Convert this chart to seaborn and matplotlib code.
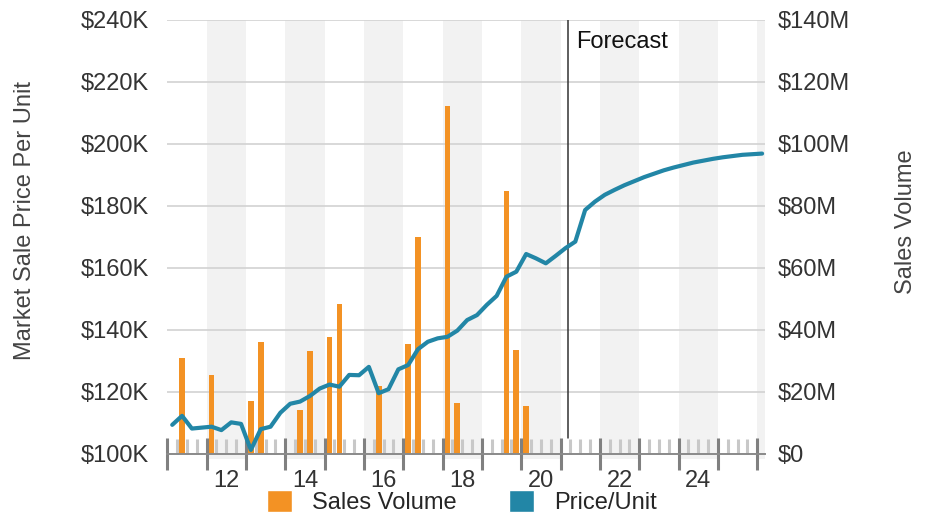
import matplotlib
matplotlib.use("Agg")
import matplotlib.pyplot as plt
import matplotlib.ticker as mticker
import matplotlib.transforms as mtransforms
from matplotlib.patches import Patch
import pandas as pd
import seaborn as sns

# Quarterly periods, 2011Q1 .. 2026Q1
quarters = [f"20{y}Q{q}" for y in range(11, 27) for q in range(1, 5)][:61]

# Market sale price per unit, $K (actuals then forecast)
price = [109.4, 112.3, 108.2, 108.5, 108.8, 107.7, 110.2, 109.7,
         101.3, 108.0, 108.8, 113.3, 116.2, 116.9, 118.7, 121.1,
         122.4, 121.7, 125.5, 125.4, 128.1, 119.6, 120.9, 127.3,
         128.7, 133.8, 136.2, 137.3, 137.8, 139.8, 143.2, 144.8,
         148.1, 151.0, 157.2, 158.8, 164.5, 163.1, 161.5, 163.9,
         166.4, 168.5, 178.7, 181.4, 183.6, 185.2, 186.7, 188.0,
         189.3, 190.4, 191.5, 192.4, 193.2, 194.0, 194.6, 195.2,
         195.7, 196.1, 196.5, 196.7, 196.9]

# Sales volume, $M (only quarters with sales)
sale_quarters = ["2011Q2", "2012Q1", "2013Q1", "2013Q2", "2014Q2", "2014Q3",
                 "2015Q1", "2015Q2", "2016Q2", "2017Q1", "2017Q2", "2018Q1",
                 "2018Q2", "2019Q3", "2019Q4", "2020Q1"]
sale_volume = [31.1, 25.5, 17.1, 36.1, 14.2, 33.2, 37.7, 48.4, 21.9,
               35.5, 70.0, 112.3, 16.5, 84.8, 33.5, 15.5]

year_labels = ["12", "14", "16", "18", "20", "22", "24"]
forecast_start = 21.19

orange = "#F39224"
blue = "#2286A6"


def qpos(label):
    # quarter label -> position on a two-digit year axis (quarter midpoint)
    return int(label[2:4]) + (int(label[-1]) - 0.5) / 4


price_df = pd.DataFrame({"x": [qpos(q) for q in quarters], "price": price})
sales_df = pd.DataFrame({"x": [qpos(q) for q in sale_quarters], "volume": sale_volume})

sns.set_style("white")
plt.rcParams["font.family"] = ["Liberation Sans", "DejaVu Sans"]

fig = plt.figure(figsize=(9.28, 5.16), dpi=100)
ax = fig.add_axes([0.1803, 0.1202, 0.6441, 0.8411])
ax2 = ax.twinx()
ax.set_zorder(2)
ax2.set_zorder(1)
ax.patch.set_visible(False)

xmin, xmax = 11, 26.2

# shaded even years
for yr in range(12, 27, 2):
    span = ax2.axvspan(yr, min(yr + 1, xmax), ymin=-0.012, ymax=1,
                       color="#f2f2f2", lw=0, zorder=0.2)
    span.set_clip_on(False)

ax2.set_axisbelow(True)
ax2.grid(axis="y", color="#d2d2d2", lw=1.2)

sns.barplot(data=sales_df, x="x", y="volume", native_scale=True, width=0.58,
            color=orange, saturation=1, errorbar=None, linewidth=0,
            ax=ax2, zorder=2)

sns.lineplot(data=price_df, x="x", y="price", color=blue, lw=3.0,
             ax=ax, zorder=3)

ax.set_xlim(xmin, xmax)
ax.set_ylim(100, 240)
ax2.set_ylim(0, 140)
ax.set_xlabel("")
ax.set_ylabel("")
ax2.set_xlabel("")
ax2.set_ylabel("")

ax.set_yticks(range(100, 241, 20))
ax.yaxis.set_major_formatter(mticker.FuncFormatter(lambda v, p: f"${v:.0f}K"))
ax2.set_yticks(range(0, 141, 20))
ax2.yaxis.set_major_formatter(
    mticker.FuncFormatter(lambda v, p: f"${v:.0f}M" if v else "$0"))
ax.tick_params(axis="y", length=0, pad=13.5, labelsize=17, labelcolor="#333333")
ax2.tick_params(axis="y", length=0, pad=9.4, labelsize=17, labelcolor="#333333")

ax.set_xticks(range(11, 27))
ax.xaxis.set_minor_locator(mticker.MultipleLocator(0.25))
ax.tick_params(axis="x", which="major", bottom=True, direction="inout", length=23,
               width=2.2, color="#808080", labelbottom=False)
ax.tick_params(axis="x", which="minor", bottom=True, direction="in", length=10.8,
               width=2.2, color="#c8c8c8")

for s in ["top", "left", "right"]:
    ax.spines[s].set_visible(False)
for s in ax2.spines:
    ax2.spines[s].set_visible(False)
ax.spines["bottom"].set_visible(True)
ax.spines["bottom"].set_color("#8a8a8a")
ax.spines["bottom"].set_linewidth(1.4)
ax.spines["bottom"].set_zorder(4)

sec = ax.secondary_xaxis("bottom")
sec.set_xticks([int(y) + 0.5 for y in year_labels], labels=year_labels)
sec.tick_params(length=0, pad=11.5, labelsize=17, labelcolor="#333333")
sec.spines["bottom"].set_visible(False)

# forecast marker
ax.axvline(forecast_start, ymin=16 / 434, ymax=1, color="#333333", lw=1.1, zorder=2.5)
trans = mtransforms.blended_transform_factory(ax.transData, ax.transAxes)
ax.text(forecast_start + 0.2, 0.949, "Forecast", transform=trans, ha="left",
        va="center", fontsize=17, color="#111111")

fig.text(25 / 928, 1 - 221 / 516, "Market Sale Price Per Unit", rotation=90,
         ha="center", va="center", fontsize=17, color="#444444")
fig.text(906 / 928, 1 - 222 / 516, "Sales Volume", rotation=90,
         ha="center", va="center", fontsize=17, color="#444444")

handles = [Patch(facecolor=orange, label="Sales Volume"),
           Patch(facecolor=blue, label="Price/Unit")]
fig.legend(handles=handles, loc="center", bbox_to_anchor=(0.498, 0.027), ncol=2,
           frameon=False, fontsize=17, handlelength=1.06, handleheight=1.05,
           handletextpad=0.87, columnspacing=2.2)

fig.savefig("out.png", dpi=100)
